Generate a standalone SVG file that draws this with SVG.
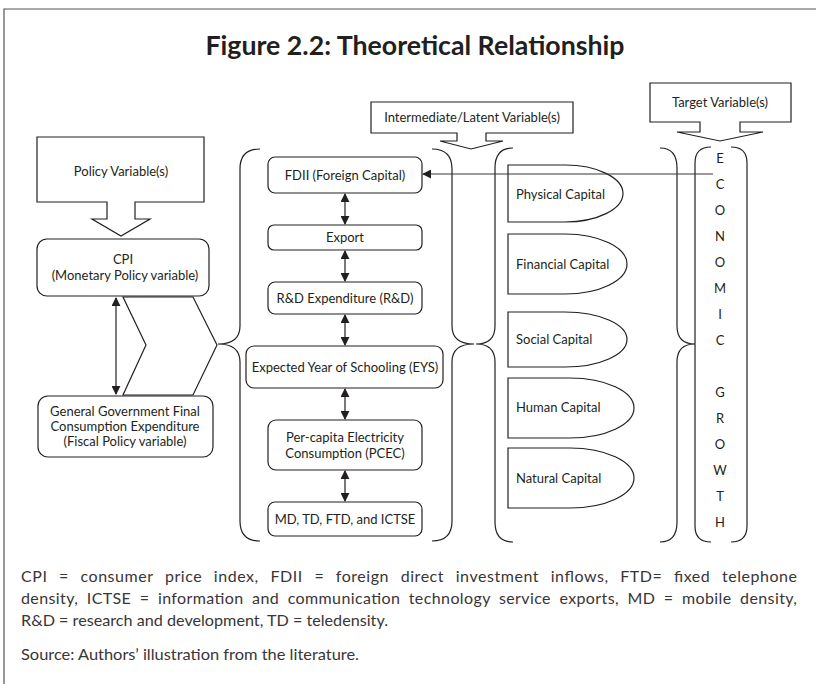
<svg xmlns="http://www.w3.org/2000/svg" width="816" height="684" viewBox="0 0 816 684">
<style>
.s{fill:none;stroke:#231f20;stroke-width:1.2}
.w{fill:#fff;stroke:#231f20;stroke-width:1.2}
.t{font-family:Lato,"Liberation Sans",sans-serif;font-size:13px;fill:#231f20}
.c{text-anchor:middle}
.f{font-family:Lato,"Liberation Sans",sans-serif;font-size:16px;fill:#3a3536}
</style>
<defs>
<marker id="ah" viewBox="0 0 10 10" refX="9" refY="5" markerWidth="9" markerHeight="9" markerUnits="userSpaceOnUse" orient="auto-start-reverse">
<path d="M0,0 L10,5 L0,10 Z" fill="#231f20"/>
</marker>
</defs>
<rect width="816" height="684" fill="#fff"/>
<path d="M4,684 V9 H816" fill="none" stroke="#555" stroke-width="1.2"/>
<text x="415" y="55" text-anchor="middle" textLength="419" lengthAdjust="spacingAndGlyphs" style="font-family:Lato,'Liberation Sans',sans-serif;font-weight:bold;font-size:26px;fill:#231f20">Figure 2.2: Theoretical Relationship</text>

<g id="policy">
<path class="w" d="M37,137 H204 V202 H135 V219 H150 L121,236 L92,219 H107 V202 H37 Z"/>
<text class="t c" x="121" y="176">Policy Variable(s)</text>
</g>
<g id="cpi">
<rect class="w" x="37" y="239" width="172" height="57" rx="10"/>
<text class="t c" x="123" y="264">CPI</text>
<text class="t c" x="125" y="280">(Monetary Policy variable)</text>
</g>
<g id="chevron">
<path class="w" d="M123,297 H193 L217,345 L193,395 H123 L146,345 Z"/>
</g>
<g id="gov">
<rect class="w" x="38" y="396" width="175" height="61" rx="10"/>
<text class="t c" x="125" y="416">General Government Final</text>
<text class="t c" x="125" y="431">Consumption Expenditure</text>
<text class="t c" x="125" y="446">(Fiscal Policy variable)</text>
</g>

<g id="intermediate">
<path class="w" d="M371,102 H573 V133 H486 V141 H503 L471,149 L440,141 H457 V133 H371 Z"/>
<text class="t c" x="472" y="122">Intermediate/Latent Variable(s)</text>
</g>
<g id="target">
<path class="w" d="M650,83 H791 V122 H740 V132 H763 L720,141 L677,132 H700 V122 H650 Z"/>
<text class="t c" x="720" y="107">Target Variable(s)</text>
</g>

<g id="braces">
<path class="s" d="M260,149 Q240,149 240,169 V326 Q240,344 218,344 Q240,344 240,362 V521 Q240,541 260,541"/>
<path class="s" d="M432,149 Q452,149 452,169 V326 Q452,344 474,344 Q452,344 452,362 V521 Q452,541 432,541"/>
<path class="s" d="M513,148 Q495,148 495,168 V326 Q495,344 476,344 Q495,344 495,362 V522 Q495,542 513,542"/>
<path class="s" d="M660,148 Q677,148 677,168 V326 Q677,344 695,344 Q677,344 677,362 V522 Q677,542 660,542"/>
<path class="s" d="M711,147 Q695,147 695,163 V526 Q695,542 711,542"/>
<path class="s" d="M731,147 Q747,147 747,163 V526 Q747,542 731,542"/>
</g>

<g id="fdii">
<rect class="w" x="268" y="157" width="154" height="36" rx="7"/>
<text class="t c" x="345" y="180">FDII (Foreign Capital)</text>
</g>
<g id="export">
<rect class="w" x="268" y="225" width="154" height="25" rx="6"/>
<text class="t c" x="345" y="242">Export</text>
</g>
<g id="rd">
<rect class="w" x="268" y="282" width="154" height="32" rx="7"/>
<text class="t c" x="345" y="303">R&amp;D Expenditure (R&amp;D)</text>
</g>
<g id="eys">
<rect class="w" x="246" y="346" width="197" height="42" rx="8"/>
<text class="t c" x="345" y="372">Expected Year of Schooling (EYS)</text>
</g>
<g id="pcec">
<rect class="w" x="268" y="420" width="154" height="50" rx="8"/>
<text class="t c" x="345" y="442">Per-capita Electricity</text>
<text class="t c" x="345" y="458">Consumption (PCEC)</text>
</g>
<g id="md">
<rect class="w" x="268" y="502" width="154" height="34" rx="7"/>
<text class="t c" x="345" y="524">MD, TD, FTD, and ICTSE</text>
</g>

<g id="physical">
<path class="s" d="M508,165 H565 A58,28.5 0 0 1 565,222 H508 Z"/>
<text class="t" x="516" y="199">Physical Capital</text>
</g>
<g id="financial">
<path class="s" d="M508,234 H565 A62,30 0 0 1 565,294 H508 Z"/>
<text class="t" x="516" y="269">Financial Capital</text>
</g>
<g id="social">
<path class="s" d="M508,312 H565 A62,27.5 0 0 1 565,367 H508 Z"/>
<text class="t" x="516" y="344">Social Capital</text>
</g>
<g id="human">
<path class="s" d="M508,378 H570 A64,30 0 0 1 570,438 H508 Z"/>
<text class="t" x="516" y="412">Human Capital</text>
</g>
<g id="natural">
<path class="s" d="M508,448 H570 A64,30 0 0 1 570,508 H508 Z"/>
<text class="t" x="516" y="483">Natural Capital</text>
</g>

<g id="growth" class="t c">
<text x="720" y="163">E</text>
<text x="720" y="189">C</text>
<text x="720" y="215">O</text>
<text x="720" y="241">N</text>
<text x="720" y="267">O</text>
<text x="720" y="293">M</text>
<text x="720" y="319">I</text>
<text x="720" y="345">C</text>
<text x="720" y="397">G</text>
<text x="720" y="423">R</text>
<text x="720" y="449">O</text>
<text x="720" y="475">W</text>
<text x="720" y="501">T</text>
<text x="720" y="527">H</text>
</g>

<g id="connectors" class="s">
<line x1="116" y1="298" x2="116" y2="394" marker-start="url(#ah)" marker-end="url(#ah)"/>
<line x1="345" y1="194" x2="345" y2="224" marker-start="url(#ah)" marker-end="url(#ah)"/>
<line x1="345" y1="251" x2="345" y2="281" marker-start="url(#ah)" marker-end="url(#ah)"/>
<line x1="345" y1="315" x2="345" y2="345" marker-start="url(#ah)" marker-end="url(#ah)"/>
<line x1="345" y1="389" x2="345" y2="419" marker-start="url(#ah)" marker-end="url(#ah)"/>
<line x1="345" y1="471" x2="345" y2="501" marker-start="url(#ah)" marker-end="url(#ah)"/>
<line x1="713" y1="174" x2="423" y2="174" marker-end="url(#ah)" stroke="#3a3536"/>
</g>

<g id="notes">
<text class="f" x="21" y="582" textLength="776" lengthAdjust="spacing" style="word-spacing:7px">CPI = consumer price index, FDII = foreign direct investment inflows, FTD= fixed telephone</text>
<text class="f" x="21" y="604" textLength="776" lengthAdjust="spacing" style="word-spacing:4px">density, ICTSE = information and communication technology service exports, MD = mobile density,</text>
<text class="f" x="21" y="626" textLength="367" lengthAdjust="spacingAndGlyphs">R&amp;D = research and development, TD = teledensity.</text>
<text class="f" x="21" y="660" textLength="338" lengthAdjust="spacingAndGlyphs">Source: Authors’ illustration from the literature.</text>
</g>
</svg>
